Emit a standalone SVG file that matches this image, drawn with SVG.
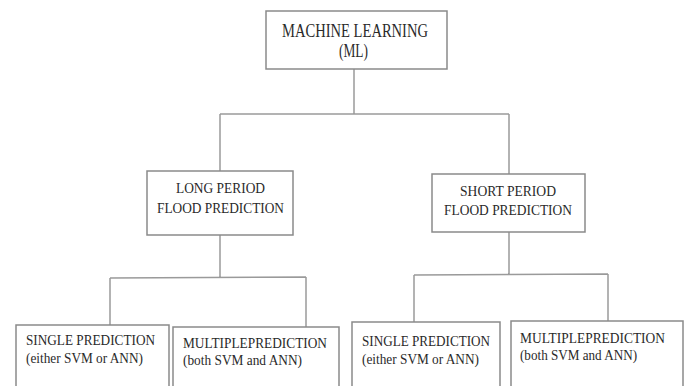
<svg xmlns="http://www.w3.org/2000/svg" width="685" height="386" viewBox="0 0 685 386" font-family="'Liberation Serif', 'DejaVu Serif', serif">
<style>
.box{fill:#fff;stroke:#8a8a8a;stroke-width:1.5}
.ln{fill:none;stroke:#9a9a9a;stroke-width:1.5}
text{fill:#2a2a2a}
.t1{font-size:18px}
.t2{font-size:15.5px}
.t3{font-size:15px}
</style>
<rect width="685" height="386" fill="#fff"/>
<g id="connectors">
<path class="ln" d="M354 69V114M220 114H509M220 114V171M509 114V174"/>
<path class="ln" d="M220 235V277.5M110 278L306 277M110 278V325M306 277V327"/>
<path class="ln" d="M509 232V274.5M414 275L608 274M414 275V322M608 274V321"/>
</g>
<g id="ml">
<rect class="box" x="266" y="11" width="181" height="58"/>
<text class="t1" x="282" y="37" textLength="146" lengthAdjust="spacingAndGlyphs">MACHINE LEARNING</text>
<text class="t1" x="339" y="57" textLength="29" lengthAdjust="spacingAndGlyphs">(ML)</text>
</g>
<g id="long">
<rect class="box" x="147" y="171" width="146" height="64"/>
<text class="t2" x="176" y="193" textLength="89" lengthAdjust="spacingAndGlyphs">LONG PERIOD</text>
<text class="t2" x="157" y="213" textLength="127" lengthAdjust="spacingAndGlyphs">FLOOD PREDICTION</text>
</g>
<g id="short">
<rect class="box" x="432" y="174" width="153" height="58"/>
<text class="t2" x="460" y="196" textLength="96" lengthAdjust="spacingAndGlyphs">SHORT PERIOD</text>
<text class="t2" x="444" y="215" textLength="128" lengthAdjust="spacingAndGlyphs">FLOOD PREDICTION</text>
</g>
<g id="single1">
<rect class="box" x="16" y="325" width="153" height="80"/>
<text class="t3" x="26" y="345" textLength="129" lengthAdjust="spacingAndGlyphs">SINGLE PREDICTION</text>
<text class="t3" x="26" y="363" textLength="117" lengthAdjust="spacingAndGlyphs">(either SVM or ANN)</text>
</g>
<g id="multi1">
<rect class="box" x="173" y="327" width="166" height="80"/>
<text class="t3" x="183" y="348" textLength="144" lengthAdjust="spacingAndGlyphs">MULTIPLEPREDICTION</text>
<text class="t3" x="183" y="365" textLength="119" lengthAdjust="spacingAndGlyphs">(both SVM and ANN)</text>
</g>
<g id="single2">
<rect class="box" x="352" y="322" width="148" height="80"/>
<text class="t3" x="362" y="346" textLength="128" lengthAdjust="spacingAndGlyphs">SINGLE PREDICTION</text>
<text class="t3" x="362" y="364" textLength="117" lengthAdjust="spacingAndGlyphs">(either SVM or ANN)</text>
</g>
<g id="multi2">
<rect class="box" x="511" y="321" width="172" height="80"/>
<text class="t3" x="520" y="343" textLength="145" lengthAdjust="spacingAndGlyphs">MULTIPLEPREDICTION</text>
<text class="t3" x="520" y="360" textLength="117" lengthAdjust="spacingAndGlyphs">(both SVM and ANN)</text>
</g>
</svg>
